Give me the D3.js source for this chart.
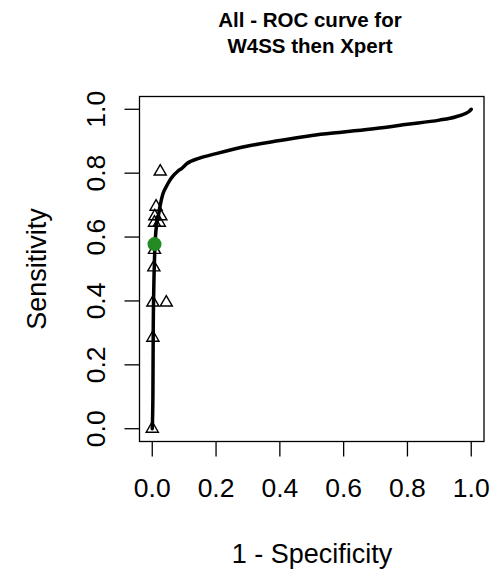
<!DOCTYPE html>
<html>
<head>
<meta charset="UTF-8">
<title>ROC curve</title>
<style>
  body { margin: 0; background: #fff; }
  text { font-family: "Liberation Sans", Arial, sans-serif; fill: #000; }
</style>
</head>
<body>
<svg id="chart" width="495" height="572"></svg>
<script src="https://cdnjs.cloudflare.com/ajax/libs/d3/7.8.5/d3.min.js"></script>
<script>
// ROC curve (1 - specificity, sensitivity)
const curveFpr = [0, 0.002, 0.003, 0.005, 0.007, 0.010, 0.014, 0.018, 0.025, 0.033, 0.045, 0.054, 0.064, 0.08, 0.095, 0.106, 0.148, 0.2, 0.3, 0.4, 0.5, 0.6, 0.7, 0.8, 0.9, 0.95, 0.98, 0.993, 1.0];
const curveTpr = [0, 0.1, 0.3, 0.45, 0.53, 0.6, 0.64, 0.66, 0.70, 0.734, 0.76, 0.776, 0.79, 0.806, 0.817, 0.828, 0.847, 0.861, 0.885, 0.902, 0.918, 0.929, 0.94, 0.953, 0.966, 0.976, 0.986, 0.993, 1.0];

// observed study points (triangles)
const studyFpr = [0, 0.002, 0.002, 0.044, 0.005, 0.007, 0.007, 0.022, 0.008, 0.027, 0.012, 0.025];
const studyTpr = [0, 0.285, 0.395, 0.395, 0.505, 0.56, 0.645, 0.645, 0.665, 0.665, 0.695, 0.805];

// summary point
const summaryFpr = [0.007];
const summaryTpr = [0.578];

const ticks = [0, 0.2, 0.4, 0.6, 0.8, 1.0];
const titleLines = ['All - ROC curve for', 'W4SS then Xpert'];

var svg = d3.select('#chart');

// R style: axis range extended by 4% on each side
var x = d3.scaleLinear().domain([-0.04, 1.04]).range([139.5, 484]);
var y = d3.scaleLinear().domain([-0.04, 1.04]).range([441.5, 96.5]);

// plot box
svg.append('rect')
    .attr('x', x(-0.04)).attr('y', y(1.04))
    .attr('width', x(1.04) - x(-0.04))
    .attr('height', y(-0.04) - y(1.04))
    .attr('fill', 'none')
    .attr('stroke', '#000')
    .attr('stroke-width', 1.3);

// x axis
var xAxis = svg.append('g');
xAxis.selectAll('line').data(ticks).enter().append('line')
    .attr('x1', d => x(d)).attr('x2', d => x(d))
    .attr('y1', y(-0.04)).attr('y2', y(-0.04) + 15)
    .attr('stroke', '#000').attr('stroke-width', 1.3);
xAxis.selectAll('text').data(ticks).enter().append('text')
    .attr('x', d => x(d)).attr('y', 497)
    .attr('text-anchor', 'middle')
    .style('font-size', '26.5px')
    .text(d => d.toFixed(1));

// y axis
var yAxis = svg.append('g');
yAxis.selectAll('line').data(ticks).enter().append('line')
    .attr('x1', x(-0.04) - 15).attr('x2', x(-0.04))
    .attr('y1', d => y(d)).attr('y2', d => y(d))
    .attr('stroke', '#000').attr('stroke-width', 1.3);
yAxis.selectAll('text').data(ticks).enter().append('text')
    .attr('transform', d => 'translate(105,' + y(d) + ') rotate(-90)')
    .attr('text-anchor', 'middle')
    .style('font-size', '26.5px')
    .text(d => d.toFixed(1));

// axis titles
svg.append('text')
    .attr('x', 312).attr('y', 563)
    .attr('text-anchor', 'middle')
    .style('font-size', '27px')
    .text('1 - Specificity');
svg.append('text')
    .attr('transform', 'translate(46,269) rotate(-90)')
    .attr('text-anchor', 'middle')
    .style('font-size', '27px')
    .text('Sensitivity');

// title
svg.append('g').selectAll('text').data(titleLines).enter().append('text')
    .attr('x', 310)
    .attr('y', (d, i) => 27 + i * 26)
    .attr('text-anchor', 'middle')
    .style('font-size', '20.5px')
    .style('font-weight', 'bold')
    .text(d => d);

// curve
var curveData = curveFpr.map((f, i) => [f, curveTpr[i]]);
var line = d3.line()
    .x(d => x(d[0]))
    .y(d => y(d[1]))
    .curve(d3.curveMonotoneX);
svg.append('path')
    .datum(curveData)
    .attr('d', line)
    .attr('fill', 'none')
    .attr('stroke', '#000')
    .attr('stroke-width', 3.5)
    .attr('stroke-linecap', 'round');

// triangles (R pch = 2)
var triR = 7;
var tri = 'M0,' + (-triR) + 'L' + (triR * 0.866) + ',' + (triR / 2) + 'L' + (-triR * 0.866) + ',' + (triR / 2) + 'Z';
var studyData = studyFpr.map((f, i) => [f, studyTpr[i]]);
svg.append('g').selectAll('path').data(studyData).enter().append('path')
    .attr('transform', d => 'translate(' + x(d[0]) + ',' + y(d[1]) + ')')
    .attr('d', tri)
    .attr('fill', 'none')
    .attr('stroke', '#000')
    .attr('stroke-width', 1.4);

// summary point
var summaryData = summaryFpr.map((f, i) => [f, summaryTpr[i]]);
svg.append('g').selectAll('circle').data(summaryData).enter().append('circle')
    .attr('cx', d => x(d[0]))
    .attr('cy', d => y(d[1]))
    .attr('r', 7)
    .attr('fill', '#228B22');
</script>
</body>
</html>
